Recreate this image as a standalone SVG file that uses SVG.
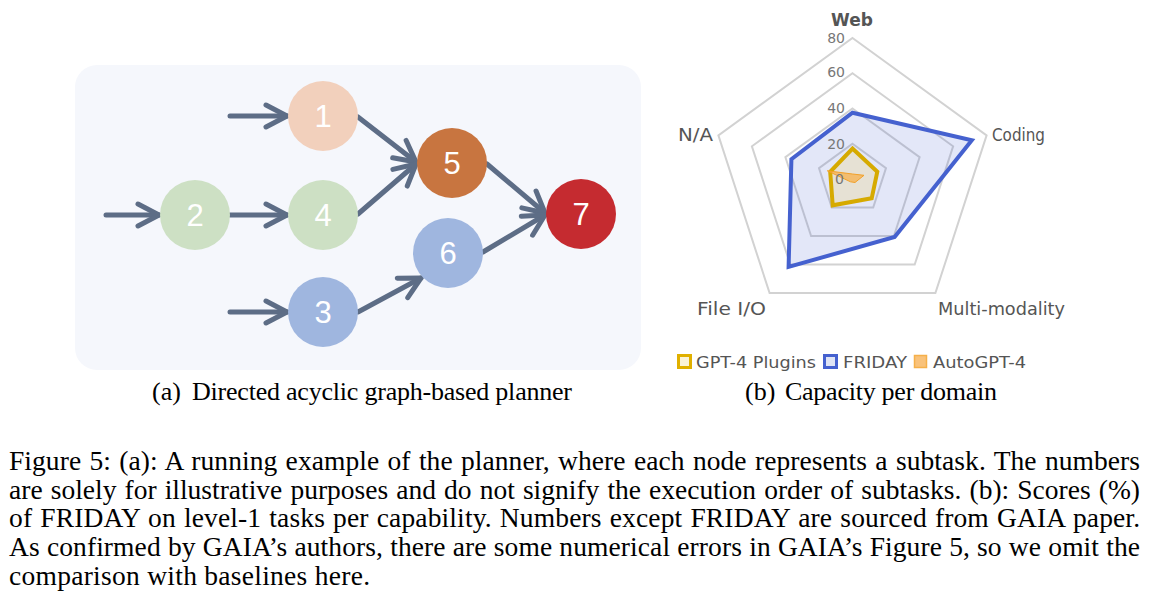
<svg xmlns="http://www.w3.org/2000/svg" width="1155" height="615" viewBox="0 0 1155 615">
<style>
.num{font-family:"Liberation Sans",Arial,sans-serif;font-size:31px;fill:#ffffff;text-anchor:middle}
.edge{stroke:#5d6d86;stroke-width:5;fill:none;stroke-linecap:round;marker-end:url(#chev)}
.ring{fill:none;stroke:#d2d2d2;stroke-width:2}
.tick{font-family:"DejaVu Sans",sans-serif;font-size:14px;fill:#777777;text-anchor:end}
.axl{font-family:"DejaVu Sans",sans-serif;font-size:17px;fill:#555555}
.leg{font-family:"DejaVu Sans",sans-serif;font-size:16px;fill:#555555}
.cap{font-family:"Liberation Serif","Times New Roman",serif;font-size:27.5px;fill:#000000}
.sub{font-family:"Liberation Serif","Times New Roman",serif;font-size:26px;fill:#000000}
</style>
<defs>
<marker id="chev" markerUnits="userSpaceOnUse" viewBox="-26 -15 30 30" markerWidth="30" markerHeight="30" refX="0" refY="0" orient="auto">
<path d="M-21,-11 L0,0 L-21,11" fill="none" stroke="#5d6d86" stroke-width="5" stroke-linecap="round" stroke-linejoin="round"/>
</marker>
</defs>
<rect width="1155" height="615" fill="#ffffff"/>

<g id="panel-a">
<rect x="75" y="65" width="566" height="305" rx="22" fill="#f5f7fc"/>
</g>

<g id="connectors">
<line class="edge" x1="230" y1="116" x2="287" y2="116"/>
<line class="edge" x1="106" y1="215" x2="159" y2="215"/>
<line class="edge" x1="230" y1="215" x2="287" y2="215"/>
<line class="edge" x1="230" y1="312" x2="287" y2="312"/>
<line class="edge" x1="358" y1="117" x2="416" y2="162"/>
<line class="edge" x1="358" y1="214" x2="416" y2="164"/>
<line class="edge" x1="487" y1="164" x2="545" y2="213"/>
<line class="edge" x1="358" y1="312" x2="421" y2="278"/>
<line class="edge" x1="483" y1="252" x2="545" y2="215"/>
</g>

<g id="node1"><circle cx="323" cy="116" r="35" fill="#f2d0bc"/><text class="num" x="323" y="127">1</text></g>
<g id="node2"><circle cx="195" cy="215" r="35" fill="#cde0c4"/><text class="num" x="195" y="226">2</text></g>
<g id="node4"><circle cx="323" cy="215" r="35" fill="#cde0c4"/><text class="num" x="323" y="226">4</text></g>
<g id="node5"><circle cx="452" cy="163" r="35" fill="#c87540"/><text class="num" x="452" y="174">5</text></g>
<g id="node6"><circle cx="448" cy="253" r="35" fill="#9fb6df"/><text class="num" x="448" y="264">6</text></g>
<g id="node3"><circle cx="323" cy="312" r="35" fill="#9fb6df"/><text class="num" x="323" y="323">3</text></g>
<g id="node7"><circle cx="581" cy="214" r="35" fill="#c52b30"/><text class="num" x="581" y="225">7</text></g>

<text class="sub" x="152" y="400">(a)</text>
<text class="sub" x="192" y="400" textLength="380" lengthAdjust="spacing">Directed acyclic graph-based planner</text>

<g id="radar">
<polygon class="ring" points="852.5,38 986.6,135.4 935.4,293.1 769.6,293.1 718.4,135.4"/>
<polygon class="ring" points="852.5,73.25 953.1,146.3 914.7,264.6 790.3,264.6 751.9,146.3"/>
<polygon class="ring" points="852.5,108.5 919.6,157.2 893.9,236 811.1,236 785.4,157.2"/>
<polygon class="ring" points="852.5,143.75 886,168.1 873.2,207.5 831.8,207.5 819,168.1"/>
<polygon id="friday" points="852.5,112.7 971.8,140.3 894.6,237 788.6,266.9 791.4,159.2" fill="#4561cf" fill-opacity="0.15" stroke="#4561cf" stroke-width="4" stroke-linejoin="miter"/>
<polygon id="gpt4plugins" points="852.5,148.5 877.3,171.7 871.7,198.3 832.7,205.3 830.2,171.8" fill="#e8d9a8" fill-opacity="0.45" stroke="#d6aa00" stroke-width="4"/>
<polygon id="autogpt4" points="827.3,170.8 852.5,174 864,175.3 855,182.5 850.5,181.8" fill="#f7b04e" fill-opacity="0.75" stroke="#f2a12a" stroke-width="1"/>
<text class="tick" x="845" y="43">80</text>
<text class="tick" x="845" y="77">60</text>
<text class="tick" x="845" y="113">40</text>
<text class="tick" x="845" y="149">20</text>
<text class="tick" x="844" y="184">0</text>
<text class="axl" x="852" y="26" text-anchor="middle" font-weight="bold">Web</text>
<text class="axl" x="992" y="141" textLength="53" lengthAdjust="spacingAndGlyphs">Coding</text>
<text class="axl" x="678" y="141" textLength="35" lengthAdjust="spacingAndGlyphs">N/A</text>
<text class="axl" x="697" y="315" textLength="69" lengthAdjust="spacingAndGlyphs">File I/O</text>
<text class="axl" x="938" y="315" textLength="127" lengthAdjust="spacingAndGlyphs">Multi-modality</text>
</g>

<g id="legend">
<rect x="678.5" y="355.5" width="12" height="12" fill="#faf3d8" stroke="#e0b000" stroke-width="3"/>
<text class="leg" x="696" y="368" textLength="120" lengthAdjust="spacingAndGlyphs">GPT-4 Plugins</text>
<rect x="824.5" y="355.5" width="12" height="12" fill="#dfe4f5" stroke="#4561cf" stroke-width="3"/>
<text class="leg" x="843" y="368" textLength="64" lengthAdjust="spacingAndGlyphs">FRIDAY</text>
<rect x="914.5" y="355.5" width="12" height="12" fill="#f9c27a" stroke="#f5b04a" stroke-width="1.5"/>
<text class="leg" x="933" y="368" textLength="93" lengthAdjust="spacingAndGlyphs">AutoGPT-4</text>
</g>

<text class="sub" x="745" y="400">(b)</text>
<text class="sub" x="785" y="400" textLength="212" lengthAdjust="spacing">Capacity per domain</text>

<g id="figure-caption">
<text class="cap" x="9" y="470" word-spacing="1.4" textLength="1131" lengthAdjust="spacing">Figure 5: (a): A running example of the planner, where each node represents a subtask. The numbers</text>
<text class="cap" x="9" y="499" word-spacing="1.2" textLength="1131" lengthAdjust="spacing">are solely for illustrative purposes and do not signify the execution order of subtasks. (b): Scores (%)</text>
<text class="cap" x="9" y="527" word-spacing="1.1" textLength="1131" lengthAdjust="spacing">of FRIDAY on level-1 tasks per capability. Numbers except FRIDAY are sourced from GAIA paper.</text>
<text class="cap" x="9" y="556" word-spacing="0.2" textLength="1131" lengthAdjust="spacing">As confirmed by GAIA’s authors, there are some numerical errors in GAIA’s Figure 5, so we omit the</text>
<text class="cap" x="9" y="585" textLength="361" lengthAdjust="spacing">comparison with baselines here.</text>
</g>
</svg>
